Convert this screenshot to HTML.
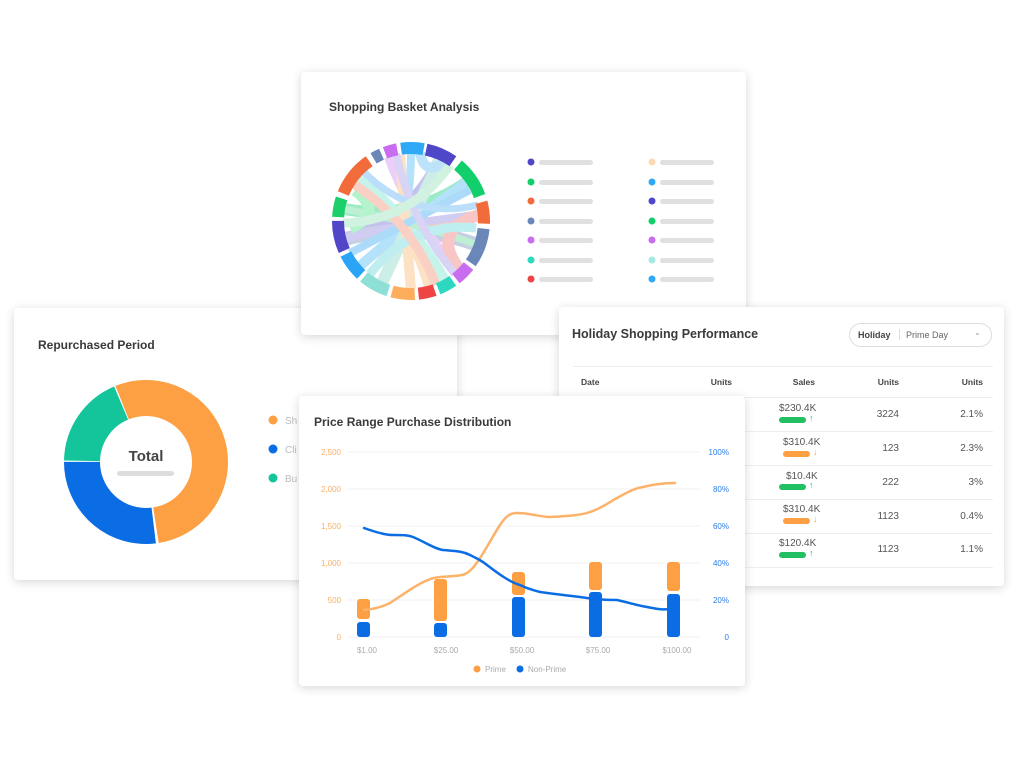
<!DOCTYPE html>
<html><head><meta charset="utf-8"><style>
body{margin:0;width:1024px;height:783px;background:#fff;position:relative;overflow:hidden;font-family:"Liberation Sans",sans-serif;}
.card{position:absolute;background:#fff;border-radius:4px;box-shadow:0 2px 10px rgba(0,0,0,0.16);}
.t{position:absolute;font-weight:bold;color:#3a3a3a;font-size:13px;}
svg{position:absolute;left:0;top:0;}
.cell{position:absolute;font-size:10px;color:#555;}
.hd{position:absolute;font-size:8.5px;color:#444;font-weight:bold;}
.ar{position:absolute;font-size:9px;font-weight:bold;}
</style></head><body>

<!-- Repurchased -->
<div class="card" style="left:14px;top:308px;width:443px;height:272px;">
<div class="t" style="left:24px;top:30px;font-size:12px;">Repurchased Period</div>
<svg width="443" height="272">
<g transform="translate(132,154) rotate(-90)" fill="none" stroke-width="36">
<circle r="64" stroke="#fd9f43" stroke-dasharray="191.0 402.12" stroke-dashoffset="0"/>
<circle r="64" stroke="#fd9f43" stroke-dasharray="24.6 402.12" stroke-dashoffset="-377.5"/>
<circle r="64" stroke="#0b6de3" stroke-dasharray="108.4 402.12" stroke-dashoffset="-193.2"/>
<circle r="64" stroke="#14c49b" stroke-dasharray="73.7 402.12" stroke-dashoffset="-302.7"/>
</g>
<text x="132" y="153" text-anchor="middle" font-size="15" font-weight="bold" fill="#444" font-family="Liberation Sans">Total</text>
<rect x="103" y="163" width="57" height="5" rx="2.5" fill="#ddd"/>
<circle cx="259" cy="112" r="4.5" fill="#fd9f43"/><text x="271" y="116" font-size="10" fill="#bbb">Sh</text>
<circle cx="259" cy="141" r="4.5" fill="#0b6de3"/><text x="271" y="145" font-size="10" fill="#bbb">Cli</text>
<circle cx="259" cy="170" r="4.5" fill="#14c49b"/><text x="271" y="174" font-size="10" fill="#bbb">Bu</text>
</svg>
</div>

<!-- Shopping Basket -->
<div class="card" style="left:301px;top:72px;width:445px;height:263px;">
<div class="t" style="left:28px;top:28px;font-size:12px;">Shopping Basket Analysis</div>
</div>
<svg width="1024" height="783" style="pointer-events:none">
<g fill="none" stroke-linecap="butt" opacity="0.5">
<path d="M440 159 Q411 221 345 239" stroke="#8b84e0" stroke-width="12"/>
<path d="M467 182 Q411 221 344 209" stroke="#3ad98a" stroke-width="12"/>
<path d="M479 215 Q411 221 360 266" stroke="#f59a7a" stroke-width="9"/>
<path d="M475 244 Q411 221 345 239" stroke="#8fa3cc" stroke-width="14"/>
<path d="M429 287 Q411 221 359 177" stroke="#fdc48a" stroke-width="10"/>
<path d="M411 153 Q411 221 382 283" stroke="#6cc6f7" stroke-width="8"/>
<path d="M388 157 Q411 221 459 269" stroke="#d9a0f2" stroke-width="8"/>
<path d="M445 280 Q411 221 359 177" stroke="#8ee8d6" stroke-width="10"/>
<path d="M360 266 Q411 221 467 182" stroke="#6cc6f7" stroke-width="10"/>
<path d="M382 283 Q411 221 440 159" stroke="#9adfd0" stroke-width="12"/>
<path d="M345 239 Q411 221 479 215" stroke="#a49ce6" stroke-width="8"/>
<path d="M344 209 Q411 221 475 244" stroke="#7ee0a8" stroke-width="7"/>
<path d="M459 269 Q430 230 479 215" stroke="#f58f8f" stroke-width="12"/>
<path d="M420 153 Q425 178 447 160" stroke="#7cc8f7" stroke-width="10"/>
<path d="M355 190 Q385 212 350 228" stroke="#6ee89a" stroke-width="12"/>
<path d="M411 289 Q405 221 400 155" stroke="#fdc48a" stroke-width="10"/>
<path d="M350 253 Q411 221 470 190" stroke="#5bb8f5" stroke-width="8"/>
<path d="M370 274 Q411 221 476 228" stroke="#7fdfe0" stroke-width="9"/>
<path d="M352 183 Q411 221 436 285" stroke="#f7a18b" stroke-width="9"/>
<path d="M396 154 Q411 221 455 274" stroke="#b4a8ee" stroke-width="8"/>
<path d="M362 170 Q411 221 478 205" stroke="#7ac0f7" stroke-width="7"/>
<path d="M343 223 Q411 221 450 165" stroke="#a6e7c4" stroke-width="9"/>
</g>
<g transform="translate(411,221) rotate(-90)" fill="none" stroke-width="12">
<circle r="73" stroke="#2fa9f5" stroke-dasharray="12.7 458.7" stroke-dashoffset="0"/>
<circle r="73" stroke="#2fa9f5" stroke-dasharray="10.2 458.7" stroke-dashoffset="-448.5"/>
<circle r="73" stroke="#4f46c8" stroke-dasharray="29.3 458.7" stroke-dashoffset="-15.3"/>
<circle r="73" stroke="#12cf6c" stroke-dasharray="38.2 458.7" stroke-dashoffset="-51.0"/>
<circle r="73" stroke="#f26b3a" stroke-dasharray="21.7 458.7" stroke-dashoffset="-95.6"/>
<circle r="73" stroke="#6b86b8" stroke-dasharray="36.9 458.7" stroke-dashoffset="-122.3"/>
<circle r="73" stroke="#c86cf0" stroke-dasharray="17.8 458.7" stroke-dashoffset="-163.1"/>
<circle r="73" stroke="#2ed8c0" stroke-dasharray="16.6 458.7" stroke-dashoffset="-184.8"/>
<circle r="73" stroke="#ef4444" stroke-dasharray="16.6 458.7" stroke-dashoffset="-205.2"/>
<circle r="73" stroke="#fdad5c" stroke-dasharray="22.9 458.7" stroke-dashoffset="-225.5"/>
<circle r="73" stroke="#8ee0d6" stroke-dasharray="28.0 458.7" stroke-dashoffset="-252.3"/>
<circle r="73" stroke="#2aa5f5" stroke-dasharray="25.5 458.7" stroke-dashoffset="-284.1"/>
<circle r="73" stroke="#5146c7" stroke-dasharray="30.6 458.7" stroke-dashoffset="-313.4"/>
<circle r="73" stroke="#1ccf6a" stroke-dasharray="19.1 458.7" stroke-dashoffset="-347.8"/>
<circle r="73" stroke="#f26b3a" stroke-dasharray="42.0 458.7" stroke-dashoffset="-372.0"/>
<circle r="73" stroke="#6b86b8" stroke-dasharray="8.9 458.7" stroke-dashoffset="-419.2"/>
<circle r="73" stroke="#c86cf0" stroke-dasharray="12.7 458.7" stroke-dashoffset="-431.9"/>
</g>
<g>
<circle cx="531" cy="162" r="3.5" fill="#4f46c8"/><rect x="539" y="160" width="54" height="5" rx="2.5" fill="#e0e0e0"/>
<circle cx="531" cy="182" r="3.5" fill="#12cf6c"/><rect x="539" y="180" width="54" height="5" rx="2.5" fill="#e0e0e0"/>
<circle cx="531" cy="201" r="3.5" fill="#f26b3a"/><rect x="539" y="199" width="54" height="5" rx="2.5" fill="#e0e0e0"/>
<circle cx="531" cy="221" r="3.5" fill="#6b86b8"/><rect x="539" y="219" width="54" height="5" rx="2.5" fill="#e0e0e0"/>
<circle cx="531" cy="240" r="3.5" fill="#c86cf0"/><rect x="539" y="238" width="54" height="5" rx="2.5" fill="#e0e0e0"/>
<circle cx="531" cy="260" r="3.5" fill="#2ed8c0"/><rect x="539" y="258" width="54" height="5" rx="2.5" fill="#e0e0e0"/>
<circle cx="531" cy="279" r="3.5" fill="#ef4444"/><rect x="539" y="277" width="54" height="5" rx="2.5" fill="#e0e0e0"/>
<circle cx="652" cy="162" r="3.5" fill="#fcd9b0"/><rect x="660" y="160" width="54" height="5" rx="2.5" fill="#e0e0e0"/>
<circle cx="652" cy="182" r="3.5" fill="#2fa9f5"/><rect x="660" y="180" width="54" height="5" rx="2.5" fill="#e0e0e0"/>
<circle cx="652" cy="201" r="3.5" fill="#4f46c8"/><rect x="660" y="199" width="54" height="5" rx="2.5" fill="#e0e0e0"/>
<circle cx="652" cy="221" r="3.5" fill="#12cf6c"/><rect x="660" y="219" width="54" height="5" rx="2.5" fill="#e0e0e0"/>
<circle cx="652" cy="240" r="3.5" fill="#c86cf0"/><rect x="660" y="238" width="54" height="5" rx="2.5" fill="#e0e0e0"/>
<circle cx="652" cy="260" r="3.5" fill="#a5e8df"/><rect x="660" y="258" width="54" height="5" rx="2.5" fill="#e0e0e0"/>
<circle cx="652" cy="279" r="3.5" fill="#2fa9f5"/><rect x="660" y="277" width="54" height="5" rx="2.5" fill="#e0e0e0"/>
</g>
</svg>

<!-- Holiday -->
<div class="card" style="left:559px;top:307px;width:445px;height:279px;">
<div class="t" style="left:13px;top:20px;font-size:12.5px;">Holiday Shopping Performance</div>
<div style="position:absolute;left:290px;top:16px;width:141px;height:22px;border:1px solid #ddd;border-radius:12px;font-size:9px;">
<span style="position:absolute;left:8px;top:6px;font-weight:bold;color:#444;">Holiday</span>
<span style="position:absolute;left:49px;top:5px;width:1px;height:11px;background:#ddd;"></span>
<span style="position:absolute;left:56px;top:6px;color:#666;">Prime Day</span>
<span style="position:absolute;left:124px;top:4px;color:#999;font-size:8px;">&#8964;</span>
</div>
<div style="position:absolute;left:14px;top:59px;width:420px;height:1px;background:#eee"></div>
<div class="hd" style="left:22px;top:70px;">Date</div>
<div class="hd" style="right:272px;top:70px;">Units</div>
<div class="hd" style="right:189px;top:70px;">Sales</div>
<div class="hd" style="right:105px;top:70px;">Units</div>
<div class="hd" style="right:21px;top:70px;">Units</div>
<div style="position:absolute;left:14px;top:90px;width:420px;height:1px;background:#eee"></div>
<div style="position:absolute;left:14px;top:124px;width:420px;height:1px;background:#eee"></div>
<div style="position:absolute;left:14px;top:158px;width:420px;height:1px;background:#eee"></div>
<div style="position:absolute;left:14px;top:192px;width:420px;height:1px;background:#eee"></div>
<div style="position:absolute;left:14px;top:226px;width:420px;height:1px;background:#eee"></div>
<div style="position:absolute;left:14px;top:260px;width:420px;height:1px;background:#eee"></div>

<div class="cell" style="left:220px;top:96px;">$230.4K</div><div style="position:absolute;left:220px;top:110px;width:27px;height:6px;border-radius:3px;background:#22c063"></div><div class="ar" style="left:250px;top:106px;color:#22c063">↑</div>
<div class="cell" style="right:105px;top:102px;">3224</div><div class="cell" style="right:21px;top:102px;">2.1%</div>
<div class="cell" style="left:224px;top:130px;">$310.4K</div><div style="position:absolute;left:224px;top:144px;width:27px;height:6px;border-radius:3px;background:#fd9f43"></div><div class="ar" style="left:254px;top:140px;color:#fd9f43">↓</div>
<div class="cell" style="right:105px;top:136px;">123</div><div class="cell" style="right:21px;top:136px;">2.3%</div>
<div class="cell" style="left:227px;top:164px;">$10.4K</div><div style="position:absolute;left:220px;top:177px;width:27px;height:6px;border-radius:3px;background:#22c063"></div><div class="ar" style="left:250px;top:173px;color:#22c063">↑</div>
<div class="cell" style="right:105px;top:170px;">222</div><div class="cell" style="right:21px;top:170px;">3%</div>
<div class="cell" style="left:224px;top:197px;">$310.4K</div><div style="position:absolute;left:224px;top:211px;width:27px;height:6px;border-radius:3px;background:#fd9f43"></div><div class="ar" style="left:254px;top:207px;color:#fd9f43">↓</div>
<div class="cell" style="right:105px;top:204px;">1123</div><div class="cell" style="right:21px;top:204px;">0.4%</div>
<div class="cell" style="left:220px;top:231px;">$120.4K</div><div style="position:absolute;left:220px;top:245px;width:27px;height:6px;border-radius:3px;background:#22c063"></div><div class="ar" style="left:250px;top:241px;color:#22c063">↑</div>
<div class="cell" style="right:105px;top:237px;">1123</div><div class="cell" style="right:21px;top:237px;">1.1%</div>
</div>

<!-- Price Range -->
<div class="card" style="left:299px;top:396px;width:446px;height:290px;">
<div class="t" style="left:15px;top:19px;font-size:12px;">Price Range Purchase Distribution</div>
</div>
<svg width="1024" height="783" font-family="Liberation Sans">
<g stroke="#f0f0f0" stroke-width="1">
<line x1="348" y1="452" x2="700" y2="452"/><line x1="348" y1="489" x2="700" y2="489"/><line x1="348" y1="526" x2="700" y2="526"/><line x1="348" y1="563" x2="700" y2="563"/><line x1="348" y1="600" x2="700" y2="600"/><line x1="348" y1="637" x2="700" y2="637"/>
</g>
<g font-size="8" fill="#fdae62" text-anchor="end">
<text x="341" y="455">2,500</text><text x="341" y="492">2,000</text><text x="341" y="529">1,500</text><text x="341" y="566">1,000</text><text x="341" y="603">500</text><text x="341" y="640">0</text>
</g>
<g font-size="8" fill="#2a7de8" text-anchor="end">
<text x="729" y="455">100%</text><text x="729" y="492">80%</text><text x="729" y="529">60%</text><text x="729" y="566">40%</text><text x="729" y="603">20%</text><text x="729" y="640">0</text>
</g>
<g font-size="8" fill="#aaa" text-anchor="middle">
<text x="367" y="653">$1.00</text><text x="446" y="653">$25.00</text><text x="522" y="653">$50.00</text><text x="598" y="653">$75.00</text><text x="677" y="653">$100.00</text>
</g>
<g>
<rect x="357" y="599" width="13" height="20" rx="3" fill="#fd9f43"/><rect x="357" y="622" width="13" height="15" rx="3" fill="#0b6de3"/>
<rect x="434" y="579" width="13" height="42" rx="3" fill="#fd9f43"/><rect x="434" y="623" width="13" height="14" rx="3" fill="#0b6de3"/>
<rect x="512" y="572" width="13" height="23" rx="3" fill="#fd9f43"/><rect x="512" y="597" width="13" height="40" rx="3" fill="#0b6de3"/>
<rect x="589" y="562" width="13" height="28" rx="3" fill="#fd9f43"/><rect x="589" y="592" width="13" height="45" rx="3" fill="#0b6de3"/>
<rect x="667" y="562" width="13" height="29" rx="3" fill="#fd9f43"/><rect x="667" y="594" width="13" height="43" rx="3" fill="#0b6de3"/>
</g>
<path d="M364 610 C375 609 382 607 390 603 C410 590 425 578 440 577 C455 576 462 576 467 573 C478 566 490 540 500 525 C506 516 510 513 517 513 C530 513 540 517 550 517 C570 516 582 515 590 512 C600 509 608 503 617 498 C628 492 635 488 643 487 C655 484 665 483 675 483" fill="none" stroke="#fdb26a" stroke-width="2.5" stroke-linecap="round"/>
<path d="M364 528 C375 532 385 535 393 535 C403 535 408 535 413 537 C425 542 435 549 443 550 C455 551 462 551 470 555 C478 559 482 561 487 565 C500 575 510 582 520 585 C528 589 533 590 540 592 C560 595 575 596 587 598 C600 600 608 600 617 600 C630 603 640 606 647 607 C657 609 663 610 670 609" fill="none" stroke="#0b6de3" stroke-width="2.5" stroke-linecap="round"/>
<circle cx="477" cy="669" r="3.5" fill="#fd9f43"/><text x="485" y="672" font-size="8" fill="#aaa">Prime</text>
<circle cx="520" cy="669" r="3.5" fill="#0b6de3"/><text x="528" y="672" font-size="8" fill="#aaa">Non-Prime</text>
</svg>
</body></html>
